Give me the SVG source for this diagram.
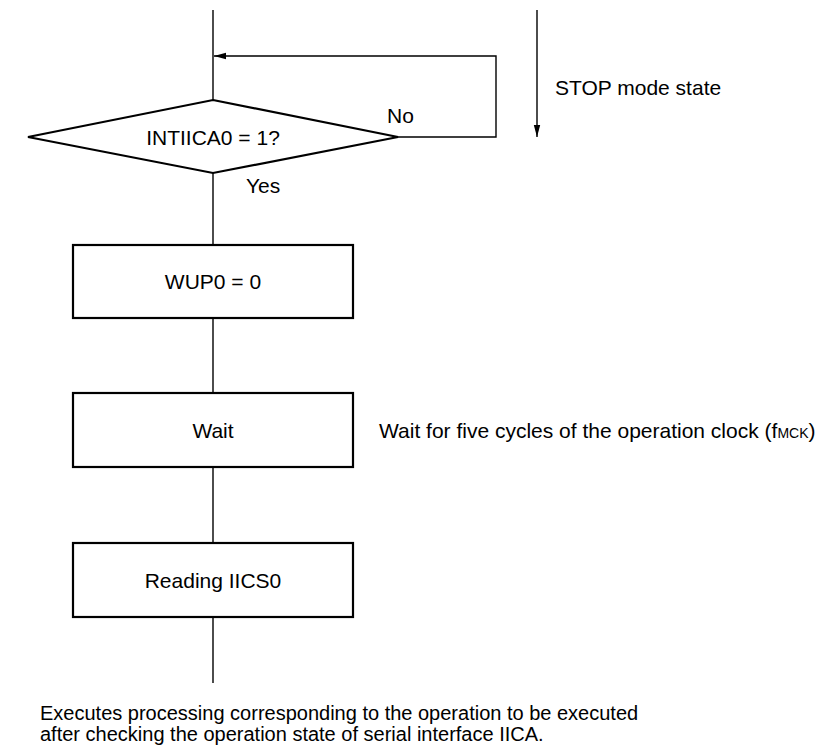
<svg xmlns="http://www.w3.org/2000/svg" width="816" height="751" viewBox="0 0 816 751">
<style>
text{font-family:"Liberation Sans",Arial,sans-serif;font-size:21px;fill:#000}
text.note{font-size:20px}
.shape{fill:#fff;stroke:#000;stroke-width:2.2}
.conn{fill:none;stroke:#000;stroke-width:1.4}
</style>
<defs>
<marker id="ah" viewBox="0 0 12 8" refX="12" refY="4" markerWidth="12" markerHeight="8" markerUnits="userSpaceOnUse" orient="auto">
<path d="M0,0.8 L12,4 L0,7.2 Z" fill="#000"/>
</marker>
</defs>
<g id="connectors">
<line class="conn" x1="213" y1="10" x2="213" y2="100"/>
<polyline class="conn" points="398,137 496,137 496,56 214,56" marker-end="url(#ah)"/>
<line class="conn" x1="213" y1="173" x2="213" y2="245"/>
<line class="conn" x1="213" y1="318" x2="213" y2="393"/>
<line class="conn" x1="213" y1="467" x2="213" y2="543"/>
<line class="conn" x1="213" y1="617" x2="213" y2="683"/>
<line class="conn" x1="537" y1="10" x2="537" y2="137" marker-end="url(#ah)"/>
</g>
<g id="decision">
<polygon class="shape" points="213,100 398,137 213,173 28,137"/>
<text x="213" y="145" text-anchor="middle">INTIICA0 = 1?</text>
<text x="387" y="123">No</text>
<text x="246" y="193">Yes</text>
</g>
<g id="wup0">
<rect class="shape" x="73" y="245" width="280" height="73"/>
<text x="213" y="289" text-anchor="middle">WUP0 = 0</text>
</g>
<g id="wait">
<rect class="shape" x="73" y="393" width="280" height="74"/>
<text x="213" y="438" text-anchor="middle">Wait</text>
</g>
<g id="reading">
<rect class="shape" x="73" y="543" width="280" height="74"/>
<text x="213" y="588" text-anchor="middle">Reading IICS0</text>
</g>
<g id="labels">
<text x="555" y="95">STOP mode state</text>
<text x="379" y="438">Wait for five cycles of the operation clock (f<tspan font-size="14">MCK</tspan>)</text>
<text class="note" x="40" y="720">Executes processing corresponding to the operation to be executed</text>
<text class="note" x="40" y="741">after checking the operation state of serial interface IICA.</text>
</g>
</svg>
